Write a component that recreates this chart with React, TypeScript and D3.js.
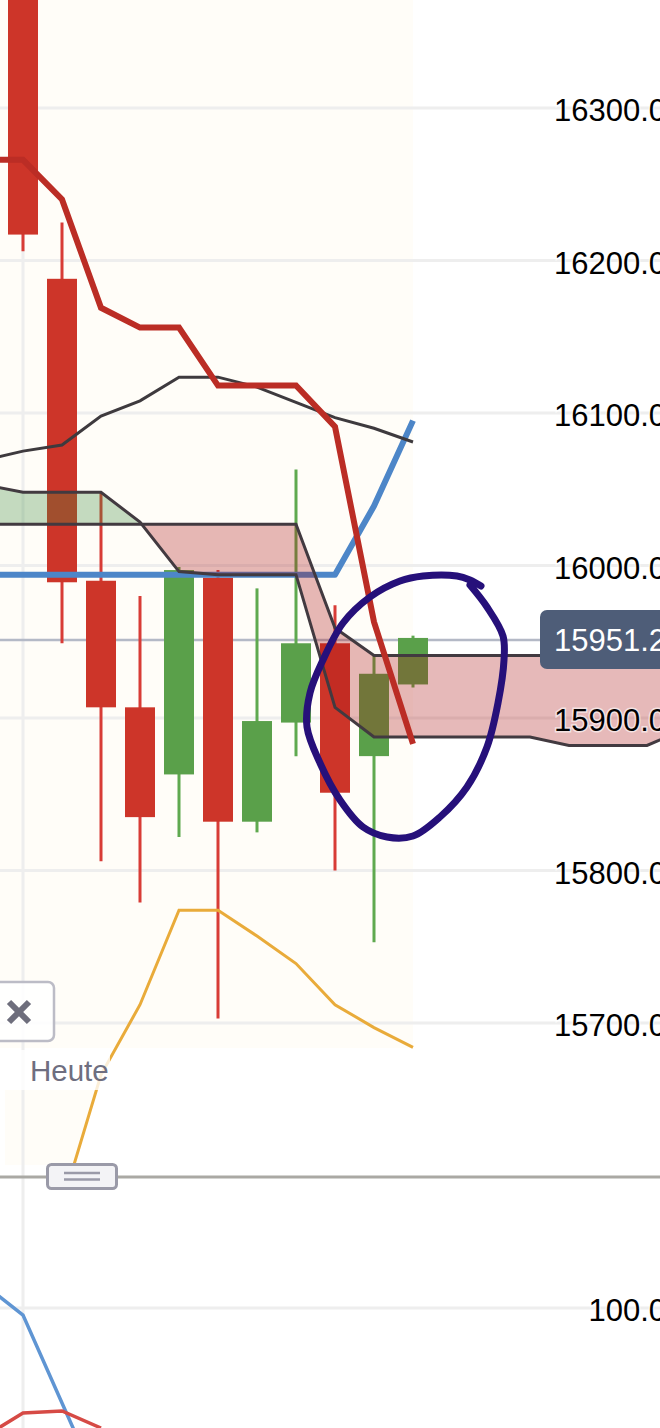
import React from "react";
import * as d3 from "d3";

// Candles, index 0..10
const opens = [16500, 16188, 15990, 15907, 15863, 15992, 15832, 15897, 15949, 15875, 15922];
const closes = [16217, 15989, 15907, 15835, 15997, 15832, 15898, 15949, 15851, 15929, 15952.5];
const highs = [16520, 16225, 16048, 15980, 15999, 15997, 15985, 16063, 15974, 15941, 15954];
const lows = [16206, 15949, 15806, 15779, 15822, 15703, 15825, 15875, 15800, 15753, 15920];

// Indicator lines, index -1..10
const lineIdx = [-1, 0, 1, 2, 3, 4, 5, 6, 7, 8, 9, 10];
const tenkanRed = [16266, 16266, 16240, 16169, 16156, 16156, 16118, 16118, 16118, 16091, 15963, 15883];
const kijunBlue = [15994, 15994, 15994, 15994, 15994, 15994, 15994, 15994, 15994, 15994, 16039, 16095];
const thinBlack = [16069, 16075, 16079, 16098, 16108, 16123.5, 16123.5, 16117, 16107, 16097, 16090, 16081];
const orangeIdx = [1, 2, 3, 4, 5, 6, 7, 8, 9, 10];
const orangeVals = [15581, 15666, 15712, 15774, 15774, 15757, 15739, 15712, 15697, 15684];

// Cloud, index -1..17
const cloudIdx = [-1, 0, 1, 2, 3, 4, 5, 6, 7, 8, 9, 10, 11, 12, 13, 14, 15, 16, 17];
const spanA = [16053, 16048, 16048, 16048, 16028.5, 15996, 15994, 15994, 15994, 15907, 15887.5, 15887.5, 15887.5, 15887.5, 15887.5, 15882, 15882, 15882, 15893];
const spanB = [16027, 16027, 16027, 16027, 16027, 16027, 16027, 16027, 16027, 15959, 15941, 15941, 15941, 15941, 15941, 15941, 15941, 15941, 15941];

// Lower pane
const lowerIdx = [-1, 0, 1, 2];
const lowerBlue = [111.75, 96.5, 52.5, 8.5];
const lowerRed = [35.5, 47.5, 48.5, 40];

const priceTicks = [16300, 16200, 16100, 16000, 15900, 15800, 15700];
const lowerTicks = [100];
const lastPrice = 15951.2;

// Hand-drawn annotation trace
const scribble: [number, number][] = [
  [481, 586], [470, 580], [457, 576], [423, 576], [400, 581], [370, 597], [343, 623], [323, 660],
  [310, 693], [307, 727], [320, 763], [340, 800], [363, 827], [387, 837], [413, 836], [440, 817],
  [467, 787], [487, 747], [498, 703], [504, 660], [503, 636], [487, 607], [470, 585],
];

const x = d3.scaleLinear().domain([0, 10]).range([23, 413]);
const y = d3.scaleLinear().domain([16300, 15700]).range([108, 1023]);
const y2 = d3.scaleLinear().domain([100, 0]).range([1308, 1508]);

const mkLine = (xs: number[], vs: number[], sc: d3.ScaleLinear<number, number>) =>
  d3.line<number>().x((i) => x(xs[i])).y((i) => sc(vs[i]))(xs.map((_, i) => i)) || "";

type CP = { i: number; a: number; b: number };
const cloudSegs: { up: boolean; pts: CP[] }[] = [];
cloudIdx.forEach((ix, k) => {
  const p: CP = { i: ix, a: spanA[k], b: spanB[k] };
  const up = p.a >= p.b;
  const last = cloudSegs[cloudSegs.length - 1];
  if (!last) {
    cloudSegs.push({ up, pts: [p] });
  } else if (last.up === up) {
    last.pts.push(p);
  } else {
    const q = last.pts[last.pts.length - 1];
    const d0 = q.a - q.b;
    const d1 = p.a - p.b;
    const t = d0 / (d0 - d1);
    const v = q.a + (p.a - q.a) * t;
    const c: CP = { i: q.i + (p.i - q.i) * t, a: v, b: v };
    last.pts.push(c);
    cloudSegs.push({ up, pts: [c, p] });
  }
});
const cloudArea = d3.area<CP>().x((d) => x(d.i)).y0((d) => y(d.a)).y1((d) => y(d.b));

const scribblePath = d3.line().curve(d3.curveCatmullRom.alpha(0.5))(scribble) || "";

const SANS = "'Liberation Sans', Arial, sans-serif";
const RED = "#cd3529";
const RED_WICK = "#d83c36";
const GREEN = "#5aa04a";
const GREEN_WICK = "#5fa94f";
const GRID = "#eeeeee";
const HALO = "rgba(255,255,255,0.6)";

export default function App() {
  return (
    <svg width={660} height={1428} viewBox="0 0 660 1428" style={{ position: "absolute", left: 0, top: 0, background: "#fff", display: "block" }}>
      <defs>
        <clipPath id="main"><rect x={0} y={0} width={660} height={1177} /></clipPath>
        <clipPath id="lower"><rect x={0} y={1178} width={660} height={250} /></clipPath>
      </defs>

      {/* today band */}
      <rect x={0} y={0} width={413} height={1048} fill="#fffdf8" />
      <path d="M5,1090 H97 L73,1165 H5 Z" fill="#fffdf8" />

      {/* grid */}
      <line x1={23} x2={23} y1={0} y2={1428} stroke={GRID} strokeWidth={3} />
      {priceTicks.map((t) => (
        <line key={t} x1={0} x2={660} y1={y(t)} y2={y(t)} stroke={GRID} strokeWidth={3} />
      ))}
      {lowerTicks.map((t) => (
        <line key={t} x1={0} x2={660} y1={y2(t)} y2={y2(t)} stroke={GRID} strokeWidth={3} />
      ))}

      {/* last-price line */}
      <line x1={0} x2={545} y1={y(lastPrice)} y2={y(lastPrice)} stroke="#b4b9c6" strokeWidth={2.5} />

      <g clipPath="url(#main)">
        {/* candles */}
        {opens.map((o, i) => {
          const c = closes[i];
          const up = c > o;
          const cx = x(i);
          const top = y(Math.max(o, c));
          const bot = y(Math.min(o, c));
          return (
            <g key={i}>
              <line x1={cx} x2={cx} y1={y(highs[i])} y2={y(lows[i])} stroke={up ? GREEN_WICK : RED_WICK} strokeWidth={3} />
              <rect x={cx - 15} y={top} width={30} height={bot - top} fill={up ? GREEN : RED} />
            </g>
          );
        })}

        <path d={mkLine(lineIdx, kijunBlue, y)} fill="none" stroke="#4d86c8" strokeWidth={6} strokeLinejoin="round" />

        {/* cloud */}
        {cloudSegs.map((s, i) => (
          <path key={i} d={cloudArea(s.pts) || ""} fill={s.up ? "rgba(60,140,60,0.3)" : "rgba(171,23,23,0.3)"} />
        ))}
        <path d={mkLine(cloudIdx, spanA, y)} fill="none" stroke="#423a40" strokeWidth={3} />
        <path d={mkLine(cloudIdx, spanB, y)} fill="none" stroke="#423a40" strokeWidth={3} />

        <path d={mkLine(lineIdx, thinBlack, y)} fill="none" stroke="#3e3a3e" strokeWidth={3} />
        <path d={mkLine(lineIdx, tenkanRed, y)} fill="none" stroke="#bb2d25" strokeWidth={6} />
        <path d={mkLine(orangeIdx, orangeVals, y)} fill="none" stroke="#e9ab3a" strokeWidth={3} />
      </g>

      {/* lower pane */}
      <g clipPath="url(#lower)">
        <path d={mkLine(lowerIdx, lowerBlue, y2)} fill="none" stroke="#5f95d3" strokeWidth={3.5} />
        <path d={mkLine(lowerIdx, lowerRed, y2)} fill="none" stroke="#d64a45" strokeWidth={3.5} />
      </g>

      {/* pane divider */}
      <line x1={0} x2={660} y1={1177} y2={1177} stroke="#aaa9a4" strokeWidth={3} />

      {/* axis labels */}
      {priceTicks.map((t) => (
        <text key={t} x={666} y={y(t) + 13} textAnchor="end" fontFamily={SANS} fontSize={31} fill="#000" stroke={HALO} strokeWidth={3} style={{ paintOrder: "stroke" }}>
          {t.toFixed(1)}
        </text>
      ))}
      {lowerTicks.map((t) => (
        <text key={t} x={666} y={y2(t) + 13} textAnchor="end" fontFamily={SANS} fontSize={31} fill="#000" stroke={HALO} strokeWidth={3} style={{ paintOrder: "stroke" }}>
          {t.toFixed(1)}
        </text>
      ))}

      {/* last-price tag */}
      <rect x={540} y={610} width={140} height={59} rx={7} fill="#4e5d78" />
      <text x={554} y={651} fontFamily={SANS} fontSize={31} fill="#fff">{lastPrice.toFixed(1)}</text>

      {/* close button */}
      <rect x={-20} y={982} width={74} height={59} rx={6} fill="#ffffff" fillOpacity={0.85} stroke="#bcbcc6" strokeWidth={2.5} />
      <path d="M9,1002 L29,1022 M29,1002 L9,1022" stroke="#6e6e7c" strokeWidth={6} fill="none" />

      {/* today label */}
      <rect x={0} y={1050} width={110} height={40} fill="#fff" fillOpacity={0.8} />
      <text x={30} y={1081} fontFamily={SANS} fontSize={29.5} fill="#6e6e80">Heute</text>

      {/* resize handle */}
      <rect x={47.5} y={1164.5} width={69} height={24} rx={4} fill="#f3f3f6" stroke="#9a9aa8" strokeWidth={3} />
      <line x1={64} x2={100} y1={1173} y2={1173} stroke="#9a9aa8" strokeWidth={2.5} />
      <line x1={64} x2={100} y1={1179.5} y2={1179.5} stroke="#9a9aa8" strokeWidth={2.5} />

      {/* hand-drawn circle */}
      <path d={scribblePath} fill="none" stroke="#26107a" strokeWidth={7} strokeLinecap="round" strokeLinejoin="round" />
    </svg>
  );
}
